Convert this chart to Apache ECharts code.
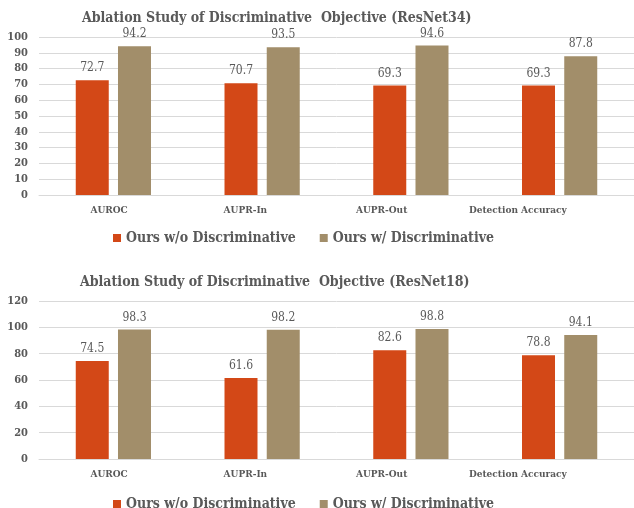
<!DOCTYPE html>
<html>
<head>
<meta charset="utf-8">
<script src="https://cdn.jsdelivr.net/npm/echarts@6/dist/echarts.min.js"></script>
<style>
  html, body { margin: 0; padding: 0; background: #fff; }
  #chart { width: 634px; height: 508px; }
</style>
</head>
<body>
<div id="chart"></div>
<script>
// data
const categories = ["AUROC", "AUPR-In", "AUPR-Out", "Detection Accuracy"];
const seriesNames = ["Ours w/o Discriminative", "Ours w/ Discriminative"];
const r34Without = [72.7, 70.7, 69.3, 69.3];
const r34With = [94.2, 93.5, 94.6, 87.8];
const r18Without = [74.5, 61.6, 82.6, 78.8];
const r18With = [98.3, 98.2, 98.8, 94.1];
const titles = [
  "Ablation Study of Discriminative  Objective (ResNet34)",
  "Ablation Study of Discriminative  Objective (ResNet18)"
];

const font = "'DejaVu Serif Condensed', 'DejaVu Serif', serif";
const grey = "#595959";
const color = ["#D34817", "#A28E6A"];

const myChart = echarts.init(document.getElementById("chart"));

const yAxisBase = (gridIndex, max, interval) => ({
  type: "value",
  gridIndex: gridIndex,
  min: 0,
  max: max,
  interval: interval,
  axisLine: { show: false },
  axisTick: { show: false },
  axisLabel: { color: grey, fontFamily: font, fontWeight: "bold", fontSize: 11, margin: 11 },
  splitLine: { lineStyle: { color: "#D9D9D9", width: 1 } }
});

const barSeries = (name, data, idx, axisIdx) => ({
  name: name,
  type: "bar",
  xAxisIndex: axisIdx,
  yAxisIndex: axisIdx,
  data: data,
  barWidth: 33,
  barGap: "28%",
  itemStyle: { color: color[idx] },
  label: {
    show: true,
    position: "top",
    distance: 6,
    color: grey,
    fontFamily: font,
    fontSize: 12,
    formatter: (p) => p.value.toFixed(1)
  }
});

// bars sit on grids 0/1, category labels on grids 2/3 (labels drawn a bit to the left)
const hiddenX = (gridIndex) => ({
  type: "category",
  gridIndex: gridIndex,
  data: categories,
  axisTick: { show: false },
  axisLabel: { show: false },
  axisLine: { lineStyle: { color: "#D9D9D9", width: 1 } }
});
const labelX = (gridIndex) => ({
  type: "category",
  gridIndex: gridIndex,
  data: categories,
  axisTick: { show: false },
  axisLine: { show: false },
  axisLabel: { interval: 0, color: grey, fontFamily: font, fontWeight: "bold", fontSize: 10, margin: 10 }
});
const hiddenY = (gridIndex) => ({
  type: "value", gridIndex: gridIndex, min: 0, max: 1, show: false,
  splitLine: { show: false }
});

const legendBase = (top) => ({
  top: top,
  left: 108,
  icon: "rect",
  itemWidth: 8,
  itemHeight: 8,
  itemGap: 24,
  data: seriesNames,
  textStyle: { color: grey, fontFamily: font, fontWeight: "bold", fontSize: 14 }
});

const titleStyle = { color: grey, fontFamily: font, fontWeight: "bold", fontSize: 14 };

const option = {
  animation: false,
  title: [
    { text: titles[0], left: 77, top: 6, textStyle: titleStyle },
    { text: titles[1], left: 75, top: 270, textStyle: titleStyle }
  ],
  legend: [legendBase(226), legendBase(492)],
  grid: [
    { left: 39, right: -4, top: 37, height: 158 },
    { left: 39, right: -4, top: 301, height: 158 },
    { left: 41, width: 545, top: 37, height: 158 },
    { left: 41, width: 545, top: 301, height: 158 }
  ],
  xAxis: [hiddenX(0), hiddenX(1), labelX(2), labelX(3)],
  yAxis: [yAxisBase(0, 100, 10), yAxisBase(1, 120, 20), hiddenY(2), hiddenY(3)],
  series: [
    barSeries(seriesNames[0], r34Without, 0, 0),
    barSeries(seriesNames[1], r34With, 1, 0),
    barSeries(seriesNames[0], r18Without, 0, 1),
    barSeries(seriesNames[1], r18With, 1, 1)
  ]
};
myChart.setOption(option);
</script>
</body>
</html>
